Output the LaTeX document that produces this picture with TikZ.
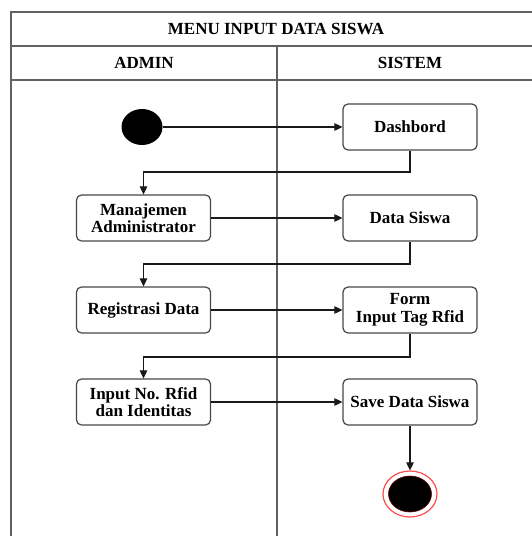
\documentclass[tikz,border=0pt]{standalone}
\usepackage{fontspec}
\setmainfont{Liberation Serif}
\usetikzlibrary{arrows.meta,shapes.geometric}

\tikzset{
  lane/.style={draw=black!62, line width=1.5pt},
  actbox/.style={draw=black!72, line width=1.2pt, fill=white, rounded corners=5pt,
    minimum width=134pt, minimum height=46pt, inner sep=1pt, align=center,
    font=\fontsize{17}{17.5}\selectfont\bfseries},
  hdr/.style={font=\fontsize{17}{18}\selectfont\bfseries, inner sep=0pt},
  flow/.style={draw=black!90, line width=1.1pt, -{Triangle[length=8pt,width=7.5pt]}},
  startdot/.style={ellipse, fill=black, minimum width=41pt, minimum height=36pt, inner sep=0pt},
}

\begin{document}
\begin{tikzpicture}[x=1pt,y=-1pt]
  \useasboundingbox (0,0) rectangle (532,536);

  % swimlane frame
  \draw[lane] (11,536) -- (11,12) -- (540,12);
  \draw[lane] (11,46) -- (540,46);
  \draw[lane] (11,80) -- (540,80);
  \draw[lane] (277,46) -- (277,536);

  \node[hdr] (title) at (276,29) {MENU INPUT DATA SISWA};
  \node[hdr] (admin) at (144,63) {ADMIN};
  \node[hdr] (sistem) at (410,63) {SISTEM};

  % activities
  \node[startdot] (start) at (142,127) {};
  \node[actbox] (dash) at (410,127) {Dashbord};
  \node[actbox] (mgmt) at (143.5,218) {Manajemen\\Administrator};
  \node[actbox] (data) at (410,218) {Data Siswa};
  \node[actbox] (reg) at (143.5,310) {Registrasi Data};
  \node[actbox] (form) at (410,310) {Form\\Input Tag Rfid};
  \node[actbox] (inp) at (143.5,402) {Input No. Rfid\\dan Identitas};
  \node[actbox] (save) at (410,402) {Save Data Siswa};

  % final state
  \node[ellipse, draw=red!70!white, line width=1.2pt, fill=white,
        minimum width=54pt, minimum height=46pt, inner sep=0pt] (end) at (410,494) {};
  \node[ellipse, fill=black, draw=red!40!black, line width=0.6pt,
        minimum width=43pt, minimum height=36pt, inner sep=0pt] (endcore) at (410,494) {};

  % control flow
  \draw[flow] (start.east) -- (dash.west);
  \draw[flow] (dash.south) -- (dash.south |- 0,172) -| (mgmt.north);
  \draw[flow] (mgmt.east) -- (data.west);
  \draw[flow] (data.south) -- (data.south |- 0,264) -| (reg.north);
  \draw[flow] (reg.east) -- (form.west);
  \draw[flow] (form.south) -- (form.south |- 0,357) -| (inp.north);
  \draw[flow] (inp.east) -- (save.west);
  \draw[flow] (save.south) -- (end.north);
\end{tikzpicture}
\end{document}
